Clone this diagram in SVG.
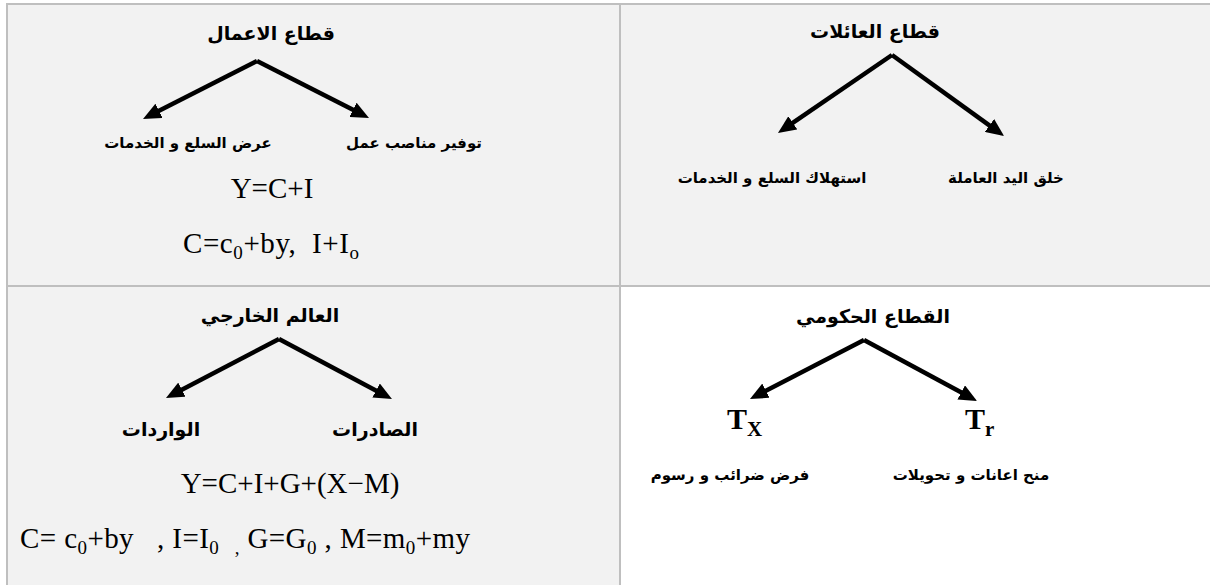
<svg xmlns="http://www.w3.org/2000/svg" width="1210" height="585" viewBox="0 0 1210 585">
<style>
.ar{font-family:"DejaVu Sans",sans-serif;font-weight:bold;fill:#000;text-anchor:middle}
.t{font-size:19px}
.l{font-size:15px}
.lb{font-size:19px}
.f{font-family:"Liberation Serif",serif;font-size:29px;fill:#000;white-space:pre}
.sub{font-size:19px}
.tx{font-family:"Liberation Serif",serif;font-weight:bold;font-size:30px;fill:#000}
.arrow{stroke:#000;stroke-width:4.5;fill:none;marker-end:url(#ah)}
.grid{stroke:#bfbfbf;stroke-width:2;fill:none}
</style>
<defs>
<marker id="ah" viewBox="0 0 18 16" refX="5" refY="8" markerWidth="18" markerHeight="16" markerUnits="userSpaceOnUse" orient="auto">
<path d="M0,0 L18,8 L0,16 z" fill="#000"/>
</marker>
</defs>
<rect x="0" y="0" width="1210" height="585" fill="#fff"/>
<g id="cells">
<rect x="7" y="4" width="1203" height="282" fill="#f2f2f2"/>
<rect x="7" y="286" width="613" height="299" fill="#f2f2f2"/>
</g>
<g id="grid" class="grid">
<line x1="7" y1="4" x2="1210" y2="4"/>
<line x1="7" y1="3" x2="7" y2="585"/>
<line x1="7" y1="286" x2="1210" y2="286"/>
<line x1="620" y1="4" x2="620" y2="585"/>
</g>
<g id="connectors">
<line class="arrow" x1="257" y1="61" x2="154.6" y2="113.1"/>
<line class="arrow" x1="257" y1="61" x2="357.4" y2="112.1"/>
<line class="arrow" x1="892" y1="55" x2="788.7" y2="125.7"/>
<line class="arrow" x1="892" y1="55" x2="993.5" y2="128.4"/>
<line class="arrow" x1="279" y1="339" x2="177.5" y2="392"/>
<line class="arrow" x1="279" y1="339" x2="380.5" y2="392.9"/>
<line class="arrow" x1="864" y1="340" x2="761.5" y2="393"/>
<line class="arrow" x1="864" y1="340" x2="965.6" y2="394.8"/>
</g>
<g id="business">
<text class="ar t" x="271" y="40">قطاع الاعمال</text>
<text class="ar l" x="188" y="148">عرض السلع و الخدمات</text>
<text class="ar l" x="414" y="148">توفير مناصب عمل</text>
<text class="f" x="272" y="198" text-anchor="middle">Y=C+I</text>
<text class="f" x="183" y="253" textLength="176" lengthAdjust="spacing">C=c<tspan class="sub" dy="6">0</tspan><tspan dy="-6">+by,  I+I</tspan><tspan class="sub" dy="6">o</tspan></text>
</g>
<g id="households">
<text class="ar t" x="875" y="38">قطاع العائلات</text>
<text class="ar l" x="772" y="183">استهلاك السلع و الخدمات</text>
<text class="ar l" x="1006" y="183">خلق اليد العاملة</text>
</g>
<g id="foreign">
<text class="ar t" x="270" y="322">العالم الخارجي</text>
<text class="ar lb" x="161" y="436">الواردات</text>
<text class="ar lb" x="375" y="436">الصادرات</text>
<text class="f" x="290" y="493" text-anchor="middle">Y=C+I+G+(X−M)</text>
<text class="f" x="20" y="548" textLength="450" lengthAdjust="spacing">C= c<tspan class="sub" dy="6">0</tspan><tspan dy="-6">+by   , I=I</tspan><tspan class="sub" dy="6">0   ,</tspan><tspan dy="-6"> G=G</tspan><tspan class="sub" dy="6">0</tspan><tspan dy="-6"> , M=m</tspan><tspan class="sub" dy="6">0</tspan><tspan dy="-6">+my</tspan></text>
</g>
<g id="government">
<text class="ar t" x="873" y="323">القطاع الحكومي</text>
<text class="tx" x="727" y="429">T<tspan font-size="21" dy="7">X</tspan></text>
<text class="tx" x="965" y="429">T<tspan font-size="21" dy="7">r</tspan></text>
<text class="ar l" x="730" y="480">فرض ضرائب و رسوم</text>
<text class="ar l" x="971" y="480">منح اعانات و تحويلات</text>
</g>
</svg>
